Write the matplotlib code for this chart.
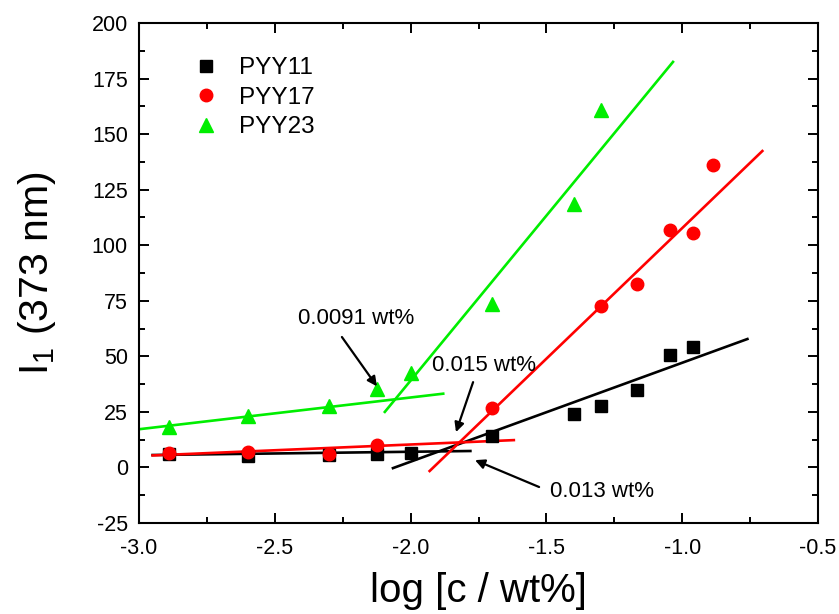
import matplotlib
matplotlib.use("Agg")
import matplotlib.pyplot as plt

plt.rcParams['font.family'] = ['Liberation Sans', 'DejaVu Sans']
plt.rcParams['mathtext.fontset'] = 'custom'
plt.rcParams['mathtext.rm'] = 'Liberation Sans'
plt.rcParams['mathtext.it'] = 'Liberation Sans'
plt.rcParams['axes.unicode_minus'] = False

# PYY11 (black squares), x = log c
x11 = [-2.89, -2.60, -2.30, -2.125, -2.0, -1.70, -1.40, -1.30, -1.165, -1.046, -0.959]
y11 = [5.9, 5.0, 5.4, 6.0, 6.6, 14.0, 24.0, 27.5, 35.0, 50.5, 54.0]

# PYY17 (red circles)
x17 = [-2.89, -2.60, -2.30, -2.125, -1.70, -1.30, -1.165, -1.046, -0.959, -0.886]
y17 = [6.5, 7.0, 6.0, 10.0, 26.8, 72.8, 82.5, 107.0, 105.5, 136.0]

# PYY23 (green triangles)
x23 = [-2.89, -2.60, -2.30, -2.125, -2.0, -1.70, -1.40, -1.30]
y23 = [18.0, 23.0, 27.5, 35.5, 42.5, 73.5, 118.5, 161.0]

# fitted straight lines, end points
fit11_lo_x = [-2.95, -1.78]
fit11_lo_y = [5.6, 7.4]
fit11_hi_x = [-2.065, -0.76]
fit11_hi_y = [-0.3, 57.8]
fit17_lo_x = [-2.95, -1.62]
fit17_lo_y = [5.4, 12.3]
fit17_hi_x = [-1.93, -0.705]
fit17_hi_y = [-1.6, 142.4]
fit23_lo_x = [-3.0, -1.88]
fit23_lo_y = [17.2, 33.2]
fit23_hi_x = [-2.095, -1.034]
fit23_hi_y = [25.0, 182.5]

green = '#00ee00'

fig = plt.figure(figsize=(8.39, 6.14), dpi=100)
ax = fig.add_axes([0.1657, 0.1482, 0.8093, 0.8143])

ax.plot(fit11_lo_x, fit11_lo_y, color='black', lw=1.9)
ax.plot(fit11_hi_x, fit11_hi_y, color='black', lw=1.9)
ax.plot(fit17_lo_x, fit17_lo_y, color='red', lw=1.9)
ax.plot(fit17_hi_x, fit17_hi_y, color='red', lw=1.9)
ax.plot(fit23_lo_x, fit23_lo_y, color=green, lw=1.9)
ax.plot(fit23_hi_x, fit23_hi_y, color=green, lw=1.9)

ax.plot(x11, y11, 's', color='black', ms=8, label='PYY11', zorder=3)
ax.plot(x17, y17, 'o', color='red', ms=9, label='PYY17', zorder=3)
ax.plot(x23, y23, '^', color=green, ms=10, label='PYY23', zorder=3)

arrow = dict(arrowstyle='-|>', color='black', lw=1.6, mutation_scale=14, shrinkA=0, shrinkB=0)
ax.annotate('', xy=(-2.124, 36.5), xytext=(-2.253, 58.7), arrowprops=arrow)
ax.text(-2.415, 67, '0.0091 wt%', fontsize=16, va='center', ha='left')
ax.annotate('', xy=(-1.833, 15.9), xytext=(-1.77, 38.4), arrowprops=arrow)
ax.text(-1.921, 46, '0.015 wt%', fontsize=16, va='center', ha='left')
ax.annotate('', xy=(-1.763, 3.3), xytext=(-1.527, -8.8), arrowprops=arrow)
ax.text(-1.487, -10.6, '0.013 wt%', fontsize=16, va='center', ha='left')

ax.set_xlim(-3.0, -0.5)
ax.set_ylim(-25, 200)
ax.set_xticks([-3.0, -2.5, -2.0, -1.5, -1.0, -0.5])
ax.set_yticks([-25, 0, 25, 50, 75, 100, 125, 150, 175, 200])
ax.set_xticks([-2.75, -2.25, -1.75, -1.25, -0.75], minor=True)
ax.set_yticks([-12.5, 12.5, 37.5, 62.5, 87.5, 112.5, 137.5, 162.5, 187.5], minor=True)
ax.tick_params(which='both', direction='in', top=True, right=True, labelsize=15.5, width=1.4)
ax.tick_params(axis='x', which='major', length=7, pad=11)
ax.tick_params(axis='y', which='major', length=7, pad=8)
ax.tick_params(which='minor', length=4)
for s in ax.spines.values():
    s.set_linewidth(1.5)

ax.set_xlabel('log [c / wt%]', fontsize=29, labelpad=9)
ax.set_ylabel(r'I$_1$ (373 nm)', fontsize=29.5, labelpad=24)

ax.legend(loc='upper left', bbox_to_anchor=(0.045, 0.975), frameon=False, fontsize=17.5,
          handletextpad=0.75, labelspacing=0.3, handlelength=1.2)

fig.savefig('out.png', dpi=100)
